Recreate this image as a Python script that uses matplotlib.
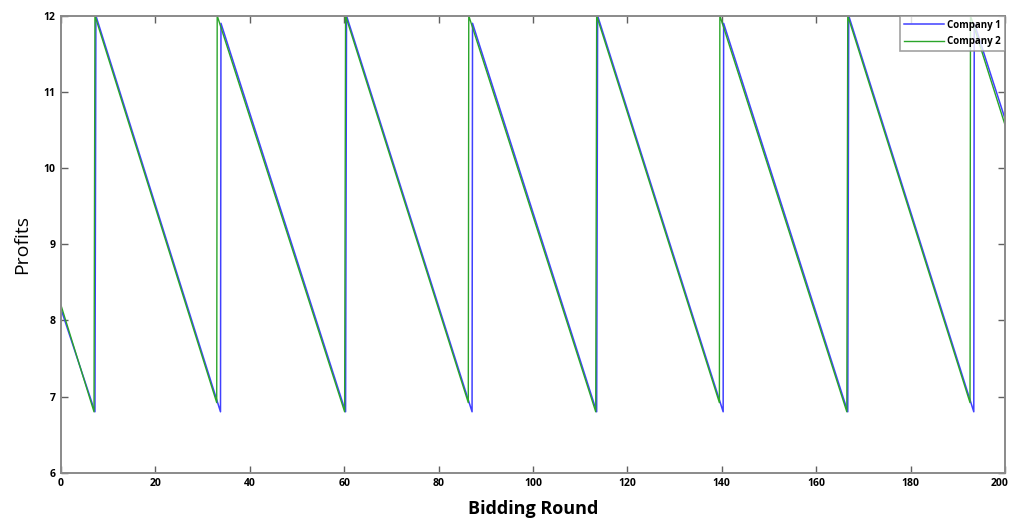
import matplotlib
matplotlib.use("Agg")
import matplotlib.pyplot as plt
import matplotlib.transforms as mtransforms

plt.rcParams['font.family'] = ['Open Sans', 'DejaVu Sans']

# vertices of the two profit curves (bidding round, profit)
company1_x = [0, 7.2, 7.4, 33.8, 33.9, 60.3, 60.5, 87.1, 87.2, 113.5, 113.7,
              140.3, 140.4, 166.7, 166.9, 193.4, 193.5, 200]
company1_y = [8.15, 6.8, 12.0, 6.8, 11.9, 6.8, 12.0, 6.8, 11.9, 6.8, 12.0,
              6.8, 11.9, 6.8, 12.0, 6.8, 11.9, 10.65]

company2_x = [0, 7.0, 7.2, 33.0, 33.1, 60.1, 60.3, 86.3, 86.4, 113.3, 113.5,
              139.5, 139.6, 166.5, 166.7, 192.6, 192.7, 200]
company2_y = [8.2, 6.8, 12.0, 6.92, 12.0, 6.8, 12.0, 6.92, 12.0, 6.8, 12.0,
              6.92, 12.0, 6.8, 12.0, 6.92, 12.0, 10.57]

xticks = list(range(0, 201, 20))
yticks = [6, 7, 8, 9, 10, 11, 12]

fig = plt.figure(figsize=(10.11, 5.18), dpi=100)
ax = fig.add_axes([0.0603, 0.0874, 0.9337, 0.8823])

ax.plot(company1_x, company1_y, color='#4040ff', lw=1.1, label='Company 1')
ax.plot(company2_x, company2_y, color='#2aa52a', lw=1.0, label='Company 2')

ax.set_xlim(0, 200)
ax.set_ylim(6, 12)
ax.set_xticks(xticks)
ax.set_yticks(yticks)
ax.tick_params(direction='in', top=True, right=True, length=5, width=1,
               color='#606060', labelsize=7.5, pad=4)
for lab in ax.get_xticklabels() + ax.get_yticklabels():
    lab.set_fontweight('bold')
# keep the last x label inside the figure
last = ax.get_xticklabels()[-1]
last.set_horizontalalignment('right')
last.set_transform(last.get_transform() +
                   mtransforms.ScaledTranslation(4 / 100, 0, fig.dpi_scale_trans))
for sp in ax.spines.values():
    sp.set_color('#8a8a8a')
    sp.set_linewidth(1.4)

ax.set_xlabel('Bidding Round', fontsize=13, fontweight='bold', labelpad=8)
ax.set_ylabel('Profits', fontsize=14, labelpad=9)

leg = ax.legend(loc='upper right', borderaxespad=0,
                prop={'weight': 'bold', 'size': 7}, fancybox=False,
                handlelength=4.2, handletextpad=0.3, borderpad=0.4,
                labelspacing=0.6)
leg.get_frame().set_edgecolor('#8a8a8a')
leg.get_frame().set_linewidth(1.2)

fig.savefig('out.png', dpi=100)
